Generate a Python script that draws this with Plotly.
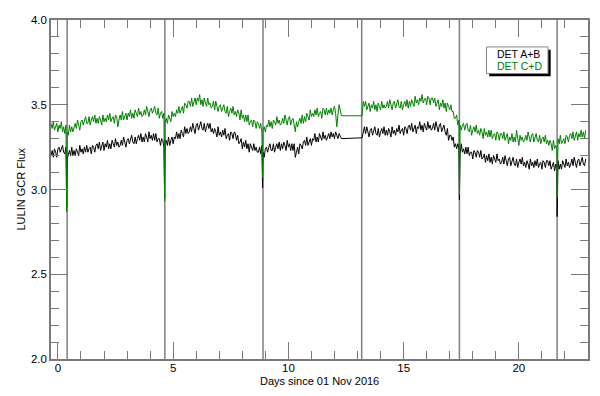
import numpy as np
import plotly.graph_objects as go

# ---- detector count rates (0.05-day cadence) ----
# segment 1 covers days -0.3 .. 12.3, segment 2 covers 13.2 .. 22.9 (gap in between)
green_seg1 = [
    3.39, 3.36, 3.40, 3.35, 3.37, 3.39, 3.34, 3.38, 3.36, 3.40, 3.34, 3.37, 3.33, 3.38, 3.34, 3.32, 3.38, 3.34, 3.37, 3.34,
    3.36, 3.39, 3.36, 3.41, 3.38, 3.35, 3.40, 3.41, 3.38, 3.41, 3.43, 3.39, 3.39, 3.43, 3.38, 3.41, 3.43, 3.40, 3.44, 3.39,
    3.42, 3.39, 3.43, 3.41, 3.38, 3.44, 3.40, 3.42, 3.40, 3.44, 3.41, 3.45, 3.40, 3.42, 3.43, 3.39, 3.44, 3.43, 3.37, 3.41,
    3.44, 3.41, 3.46, 3.41, 3.43, 3.45, 3.41, 3.45, 3.43, 3.47, 3.42, 3.45, 3.42, 3.47, 3.45, 3.43, 3.48, 3.44, 3.46, 3.43,
    3.44, 3.47, 3.44, 3.49, 3.46, 3.43, 3.47, 3.48, 3.45, 3.48, 3.49, 3.45, 3.44, 3.48, 3.42, 3.45, 3.46, 3.42, 3.45, 3.39,
    3.42, 3.39, 3.44, 3.42, 3.40, 3.46, 3.43, 3.45, 3.43, 3.47, 3.45, 3.49, 3.45, 3.47, 3.49, 3.45, 3.51, 3.50, 3.48, 3.52,
    3.52, 3.49, 3.54, 3.49, 3.52, 3.54, 3.50, 3.54, 3.52, 3.56, 3.50, 3.53, 3.49, 3.54, 3.51, 3.49, 3.54, 3.50, 3.51, 3.48,
    3.49, 3.52, 3.47, 3.52, 3.49, 3.46, 3.49, 3.50, 3.46, 3.49, 3.50, 3.46, 3.45, 3.49, 3.43, 3.46, 3.48, 3.45, 3.49, 3.44,
    3.46, 3.43, 3.47, 3.45, 3.41, 3.47, 3.42, 3.44, 3.40, 3.44, 3.40, 3.44, 3.38, 3.40, 3.41, 3.37, 3.41, 3.40, 3.36, 3.40,
    3.39, 3.36, 3.39, 3.34, 3.35, 3.37, 3.34, 3.38, 3.37, 3.41, 3.37, 3.40, 3.36, 3.41, 3.40, 3.38, 3.43, 3.39, 3.41, 3.38,
    3.39, 3.42, 3.39, 3.44, 3.41, 3.38, 3.42, 3.43, 3.38, 3.41, 3.42, 3.38, 3.34, 3.40, 3.37, 3.40, 3.42, 3.39, 3.44, 3.39,
    3.43, 3.40, 3.45, 3.43, 3.41, 3.47, 3.43, 3.45, 3.43, 3.47, 3.44, 3.48, 3.43, 3.45, 3.46, 3.42, 3.48, 3.47, 3.44, 3.48,
    3.44, 3.47, 3.45, 3.48, 3.44, 3.47, 3.49, 3.45, 3.37, 3.44, 3.50, 3.47, 3.435,
]
green_seg2 = [
    3.435,
    3.52, 3.49, 3.52, 3.47, 3.49, 3.51, 3.46, 3.50, 3.48, 3.52, 3.47, 3.50, 3.46, 3.51, 3.49, 3.47, 3.52, 3.48, 3.50, 3.48,
    3.49, 3.52, 3.48, 3.53, 3.50, 3.47, 3.51, 3.52, 3.48, 3.51, 3.53, 3.49, 3.48, 3.52, 3.47, 3.50, 3.52, 3.49, 3.53, 3.48,
    3.52, 3.49, 3.53, 3.51, 3.49, 3.55, 3.51, 3.53, 3.50, 3.54, 3.52, 3.56, 3.51, 3.53, 3.54, 3.50, 3.55, 3.54, 3.50, 3.54,
    3.54, 3.51, 3.54, 3.49, 3.51, 3.53, 3.47, 3.51, 3.49, 3.53, 3.48, 3.51, 3.46, 3.51, 3.49, 3.47, 3.50, 3.46, 3.46, 3.42,
    3.42, 3.44, 3.38, 3.41, 3.38, 3.35, 3.38, 3.39, 3.35, 3.38, 3.39, 3.35, 3.34, 3.38, 3.32, 3.35, 3.37, 3.34, 3.38, 3.33,
    3.35, 3.32, 3.36, 3.34, 3.30, 3.36, 3.32, 3.34, 3.31, 3.35, 3.31, 3.35, 3.30, 3.32, 3.33, 3.29, 3.34, 3.33, 3.29, 3.33,
    3.33, 3.30, 3.34, 3.29, 3.31, 3.33, 3.27, 3.31, 3.29, 3.33, 3.28, 3.31, 3.28, 3.35, 3.30, 3.26, 3.32, 3.29, 3.31, 3.28,
    3.29, 3.32, 3.29, 3.34, 3.31, 3.28, 3.32, 3.33, 3.28, 3.31, 3.33, 3.29, 3.28, 3.32, 3.27, 3.30, 3.31, 3.28, 3.32, 3.27,
    3.29, 3.26, 3.29, 3.27, 3.23, 3.29, 3.24, 3.26, 3.24, 3.30, 3.27, 3.32, 3.27, 3.29, 3.30, 3.27, 3.32, 3.31, 3.28, 3.32,
    3.33, 3.30, 3.34, 3.29, 3.32, 3.34, 3.29, 3.33, 3.31, 3.35, 3.31, 3.34, 3.30, 3.35,
]

black_seg1 = [
    3.20, 3.23, 3.19, 3.24, 3.22, 3.19, 3.24, 3.25, 3.22, 3.25, 3.26, 3.22, 3.21, 3.25, 3.18, 3.21, 3.23, 3.20, 3.25, 3.20,
    3.23, 3.20, 3.24, 3.22, 3.20, 3.26, 3.22, 3.24, 3.21, 3.25, 3.22, 3.26, 3.22, 3.24, 3.25, 3.21, 3.26, 3.25, 3.22, 3.26,
    3.27, 3.24, 3.28, 3.23, 3.26, 3.28, 3.23, 3.27, 3.25, 3.29, 3.24, 3.27, 3.24, 3.29, 3.27, 3.25, 3.30, 3.26, 3.28, 3.25,
    3.26, 3.29, 3.26, 3.31, 3.28, 3.25, 3.29, 3.30, 3.27, 3.30, 3.32, 3.28, 3.27, 3.31, 3.27, 3.30, 3.32, 3.29, 3.33, 3.28,
    3.31, 3.28, 3.33, 3.31, 3.28, 3.34, 3.30, 3.32, 3.29, 3.33, 3.29, 3.33, 3.28, 3.30, 3.30, 3.26, 3.30, 3.29, 3.25, 3.29,
    3.29, 3.26, 3.31, 3.26, 3.29, 3.31, 3.27, 3.31, 3.30, 3.34, 3.30, 3.33, 3.30, 3.35, 3.33, 3.31, 3.37, 3.33, 3.36, 3.33,
    3.34, 3.37, 3.34, 3.39, 3.36, 3.33, 3.38, 3.39, 3.35, 3.38, 3.40, 3.36, 3.35, 3.39, 3.34, 3.37, 3.39, 3.36, 3.39, 3.34,
    3.36, 3.33, 3.36, 3.34, 3.31, 3.37, 3.32, 3.34, 3.31, 3.35, 3.32, 3.36, 3.30, 3.32, 3.33, 3.29, 3.34, 3.33, 3.30, 3.34,
    3.33, 3.29, 3.32, 3.27, 3.28, 3.30, 3.24, 3.28, 3.25, 3.29, 3.24, 3.27, 3.22, 3.27, 3.25, 3.23, 3.27, 3.23, 3.25, 3.22,
    3.22, 3.25, 3.21, 3.26, 3.22, 3.19, 3.24, 3.25, 3.22, 3.25, 3.27, 3.23, 3.23, 3.27, 3.22, 3.25, 3.27, 3.24, 3.28, 3.23,
    3.27, 3.24, 3.28, 3.26, 3.23, 3.29, 3.25, 3.27, 3.23, 3.27, 3.23, 3.27, 3.19, 3.22, 3.25, 3.21, 3.27, 3.26, 3.24, 3.28,
    3.29, 3.26, 3.31, 3.26, 3.28, 3.30, 3.26, 3.30, 3.29, 3.33, 3.28, 3.31, 3.28, 3.33, 3.31, 3.29, 3.34, 3.30, 3.32, 3.29,
    3.31, 3.33, 3.30, 3.34, 3.31, 3.33, 3.30, 3.34, 3.32, 3.30, 3.33, 3.31, 3.30,
]
black_seg2 = [
    3.305,
    3.34, 3.37, 3.33, 3.37, 3.34, 3.31, 3.35, 3.36, 3.32, 3.35, 3.37, 3.33, 3.32, 3.36, 3.31, 3.34, 3.36, 3.33, 3.37, 3.32,
    3.35, 3.32, 3.36, 3.34, 3.31, 3.37, 3.33, 3.35, 3.32, 3.36, 3.34, 3.38, 3.33, 3.35, 3.36, 3.32, 3.37, 3.36, 3.33, 3.37,
    3.38, 3.35, 3.39, 3.34, 3.36, 3.38, 3.33, 3.37, 3.36, 3.40, 3.35, 3.38, 3.34, 3.39, 3.37, 3.35, 3.40, 3.36, 3.38, 3.35,
    3.36, 3.39, 3.35, 3.40, 3.37, 3.34, 3.38, 3.39, 3.34, 3.37, 3.38, 3.34, 3.32, 3.36, 3.29, 3.32, 3.32, 3.29, 3.31, 3.25,
    3.27, 3.24, 3.27, 3.24, 3.21, 3.27, 3.22, 3.24, 3.21, 3.25, 3.21, 3.25, 3.20, 3.22, 3.22, 3.18, 3.23, 3.22, 3.19, 3.23,
    3.22, 3.19, 3.23, 3.18, 3.19, 3.21, 3.16, 3.20, 3.17, 3.21, 3.16, 3.19, 3.15, 3.20, 3.18, 3.16, 3.21, 3.17, 3.18, 3.15,
    3.16, 3.19, 3.15, 3.20, 3.17, 3.14, 3.18, 3.19, 3.14, 3.17, 3.19, 3.15, 3.14, 3.18, 3.13, 3.16, 3.18, 3.15, 3.19, 3.14,
    3.16, 3.13, 3.17, 3.15, 3.12, 3.18, 3.14, 3.16, 3.13, 3.17, 3.14, 3.18, 3.13, 3.15, 3.16, 3.12, 3.17, 3.16, 3.13, 3.17,
    3.17, 3.14, 3.17, 3.12, 3.14, 3.16, 3.11, 3.15, 3.13, 3.17, 3.12, 3.15, 3.12, 3.17, 3.15, 3.13, 3.18, 3.14, 3.16, 3.13,
    3.15, 3.18, 3.14, 3.19, 3.16, 3.13, 3.17, 3.18, 3.14, 3.17, 3.19, 3.15, 3.14, 3.18,
]

# sharp dips at the file boundaries
dip_days = [0.38, 4.63, 8.88, 17.42, 21.66]
dip_green = [2.87, 2.93, 3.07, 2.97, 2.95]
dip_black = [2.90, 2.95, 3.01, 2.94, 2.84]

# vertical boundary lines
boundary_days = [0.40, 4.64, 8.90, 13.18, 17.42, 21.66]

assert len(green_seg1) == len(black_seg1)
assert len(green_seg2) == len(black_seg2)
seg1_start, seg2_start, step = -0.3, 13.2, 0.05
days_seg1 = np.round(seg1_start + step * np.arange(len(green_seg1)), 3)
days_seg2 = np.round(seg2_start + step * np.arange(len(green_seg2)), 3)

rows = []
for d, g, b in zip(days_seg1, green_seg1, black_seg1):
    rows.append((float(d), g, b))
for d, g, b in zip(days_seg2, green_seg2, black_seg2):
    rows.append((float(d), g, b))
for d, g, b in zip(dip_days, dip_green, dip_black):
    rows.append((d, g, b))
rows.sort(key=lambda r: r[0])
x = [r[0] for r in rows]
yg = [r[1] for r in rows]
yb = [r[2] for r in rows]

FONT = "Liberation Sans, Arial, Helvetica, sans-serif"
AX = "#7a7a7a"

fig = go.Figure()
fig.add_trace(go.Scatter(x=x, y=yb, mode="lines", line=dict(color="black", width=1),
                         name="DET A+B", showlegend=False))
fig.add_trace(go.Scatter(x=x, y=yg, mode="lines", line=dict(color="#008000", width=1),
                         name="DET C+D", showlegend=False))

for d in boundary_days:
    fig.add_shape(type="line", xref="x", yref="paper", x0=d, x1=d, y0=0, y1=1,
                  line=dict(color="#808080", width=1.5), layer="below")

axis_common = dict(showgrid=False, zeroline=False, showline=True, linecolor=AX, linewidth=1.5,
                   mirror="ticks", ticks="inside", tickcolor=AX, tickwidth=1.2, ticklen=17,
                   automargin=False,
                   tickfont=dict(family=FONT, size=11.5, color="black"))

fig.update_xaxes(range=[-0.3, 23], tick0=0, dtick=5, ticklabelstandoff=-3,
                 minor=dict(ticks="inside", ticklen=8, dtick=1, tick0=0, tickcolor=AX, tickwidth=1.2),
                 **axis_common)
fig.update_yaxes(range=[2.0, 4.0], tick0=2.0, dtick=0.5, tickformat=".1f",
                 minor=dict(ticks="inside", ticklen=8, dtick=0.1, tick0=2.0, tickcolor=AX, tickwidth=1.2),
                 **axis_common)

# legend box with shadow (paper coords; plot area is 537 x 339 px)
bx0, bx1, by0, by1 = 0.811, 0.9255, 0.842, 0.9205
fig.add_shape(type="rect", xref="paper", yref="paper", x0=bx0 + 0.005, x1=bx1 + 0.005,
              y0=by0 - 0.008, y1=by1 - 0.008, fillcolor="black", line=dict(width=0), layer="above")
fig.add_shape(type="rect", xref="paper", yref="paper", x0=bx0, x1=bx1, y0=by0, y1=by1,
              fillcolor="white", line=dict(color="#888888", width=1), layer="above")
fig.add_annotation(xref="paper", yref="paper", x=0.8285, y=0.899, text="DET A+B",
                   showarrow=False, xanchor="left", yanchor="middle", borderpad=0,
                   font=dict(family=FONT, size=10.5, color="black"))
fig.add_annotation(xref="paper", yref="paper", x=0.8285, y=0.863, text="DET C+D",
                   showarrow=False, xanchor="left", yanchor="middle", borderpad=0,
                   font=dict(family=FONT, size=10.5, color="#008000"))

# axis titles
fig.add_annotation(xref="paper", yref="paper", x=0.5, y=-0.066, text="Days since 01 Nov 2016",
                   showarrow=False, xanchor="center", yanchor="middle", borderpad=0,
                   font=dict(family=FONT, size=11, color="black"))
fig.add_annotation(xref="paper", yref="paper", x=-0.0577, y=0.5, text="LULIN GCR Flux",
                   showarrow=False, textangle=-90, xanchor="center", yanchor="middle",
                   font=dict(family=FONT, size=11, color="black"))

# the page body adds an 8 px margin, so the figure is 584x380 to fill the 600x396 window
fig.update_layout(width=584, height=380, margin=dict(l=43, r=4, t=12, b=29),
                  plot_bgcolor="white", paper_bgcolor="white", showlegend=False)

fig.write_html("out.html")
